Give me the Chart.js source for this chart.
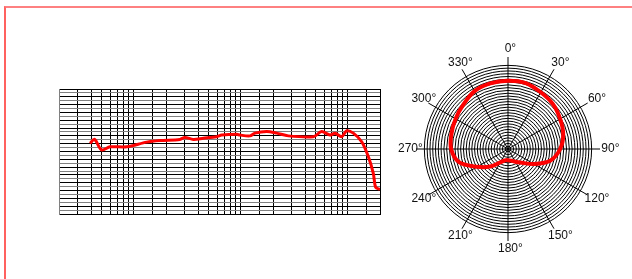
<!DOCTYPE html>
<html>
<head>
<meta charset="utf-8">
<title>Frequency response and polar pattern</title>
<script src="https://cdn.jsdelivr.net/npm/chart.js"></script>
<style>
    body {
        margin: 0;
        background: #fff;
        overflow: hidden;
        font-family: "Liberation Sans", Arial, sans-serif;
    }
    .frame {
        position: absolute;
        left: 4px;
        top: 6px;
        width: 700px;
        height: 400px;
        border-top: 2px solid #ff8080;
        border-left: 2px solid #ff6060;
    }
    .box { position: absolute; }
    #freqBox { left: 57px; top: 87px; width: 325px; height: 129px; }
    #polarBox { left: 386px; top: 27px; width: 244px; height: 244px; }
</style>
</head>
<body>
<div class="frame"></div>
<div class="box" id="freqBox"><canvas id="freqChart"></canvas></div>
<div class="box" id="polarBox"><canvas id="polarChart"></canvas></div>

<script>
// frequency response (Hz / level in grid steps)
const freqs  = [39, 43, 50, 60, 86, 132, 176, 270, 301, 360, 446, 595, 663, 916, 983,
                1219, 1358, 1746, 2166, 2780, 4760, 5704, 6818, 7594, 8770, 9770,
                11260, 13490, 15550, 17320, 18240, 20000];
const levels = [18.1, 19.1, 16.4, 17.2, 17.2, 18.4, 18.8, 19.1, 19.6, 19.1, 19.4, 19.8, 20.2, 20.4, 20.2,
                20.0, 20.7, 21.1, 20.7, 20.0, 19.8, 21.1, 20.2, 20.7, 19.8, 21.3,
                20.7, 18.5, 14.7, 10.4, 6.8, 6.3];
// vertical grid lines of the log axis
const gridFreqs = [20, 30, 40, 50, 60, 70, 80, 90,
                   100, 150, 200, 300, 400, 500, 600, 700, 800, 900,
                   1000, 1500, 2000, 3000, 4000, 5000, 6000, 7000, 8000, 9000,
                   10000, 15000, 20000];

// polar pattern
const angles = [0, 15, 30, 45, 60, 75, 90, 105, 120, 135, 150, 165,
                180, 195, 210, 225, 240, 255, 270, 285, 300, 315, 330, 345];
const pattern = [24.5, 24.5, 23.5, 22.8, 21.6, 20.5, 18.7, 15.8, 10.8, 7.0, 5.3, 4.3,
                 4.0, 4.2, 5.5, 8.9, 12.8, 18.2, 20.4, 21.0, 21.7, 22.6, 24.0, 24.4];

Chart.defaults.font.family = '"Liberation Sans", Arial, sans-serif';
Chart.defaults.animation = false;

new Chart(document.getElementById('freqChart'), {
    type: 'line',
    data: {
        datasets: [{
            data: freqs.map((f, i) => ({ x: f, y: levels[i] })),
            borderColor: '#ff0000',
            borderWidth: 3,
            pointRadius: 0,
            tension: 0.3,
            fill: false
        }]
    },
    options: {
        responsive: true,
        maintainAspectRatio: false,
        layout: { padding: 2 },
        plugins: { legend: { display: false }, tooltip: { enabled: false } },
        scales: {
            x: {
                type: 'logarithmic',
                min: 20,
                max: 20000,
                afterBuildTicks: axis => { axis.ticks = gridFreqs.map(v => ({ value: v })); },
                ticks: { display: false },
                grid: { color: '#000', lineWidth: 1, drawTicks: false },
                border: { color: '#000' }
            },
            y: {
                min: 0,
                max: 32,
                ticks: { display: false, stepSize: 1 },
                grid: {
                    color: c => (c.index % 2 ? '#808080' : '#000'),
                    lineWidth: 1,
                    drawTicks: false
                },
                border: { color: '#808080' }
            }
        }
    }
});

// angle labels: number centred on the spoke, degree sign after it
const angleLabels = {
    id: 'angleLabels',
    afterDraw(chart) {
        const r = chart.scales.r;
        const ctx = chart.ctx;
        ctx.save();
        ctx.font = '12px "Liberation Sans", Arial, sans-serif';
        ctx.fillStyle = '#111';
        ctx.textAlign = 'left';
        ctx.textBaseline = 'middle';
        angles.forEach((a, i) => {
            if (a % 30 !== 0) return;
            const p = r.getPointPosition(i, r.drawingArea + 8);
            const w = ctx.measureText(String(a)).width;
            ctx.fillText(a + '°', p.x - w / 2, p.y);
        });
        ctx.restore();
    }
};

new Chart(document.getElementById('polarChart'), {
    type: 'radar',
    data: {
        labels: angles,
        datasets: [{
            data: pattern,
            borderColor: '#ff0000',
            borderWidth: 4,
            pointRadius: 0,
            tension: 0.35,
            fill: false
        }]
    },
    options: {
        responsive: true,
        maintainAspectRatio: false,
        layout: { padding: 30 },
        plugins: { legend: { display: false }, tooltip: { enabled: false } },
        scales: {
            r: {
                min: 0,
                max: 33,
                ticks: { display: false, stepSize: 1 },
                grid: {
                    circular: true,
                    color: c => (c.tick && c.tick.value > 30 ? 'rgba(0,0,0,0)' : '#000'),
                    lineWidth: 1
                },
                angleLines: {
                    color: '#000',
                    lineWidth: c => (c.index % 2 === 0 ? 1 : 0)
                },
                pointLabels: { display: false }
            }
        }
    },
    plugins: [angleLabels]
});
</script>
</body>
</html>
